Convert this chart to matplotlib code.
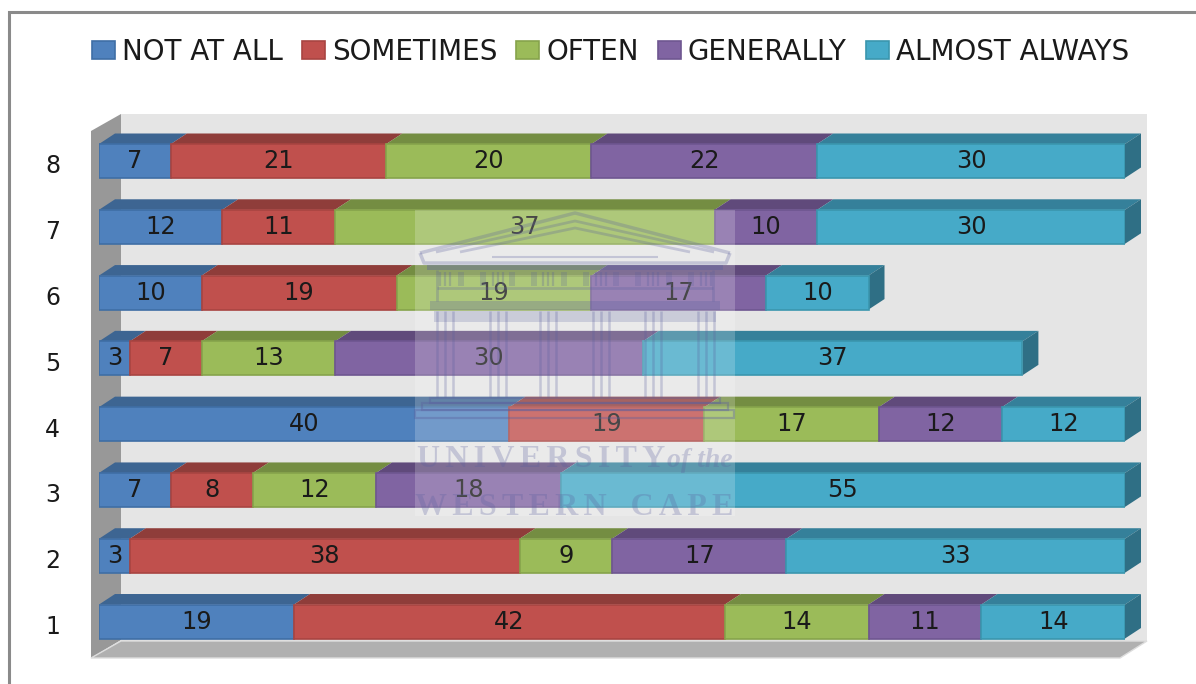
import matplotlib
matplotlib.use("Agg")
import matplotlib.pyplot as plt
from matplotlib.patches import Polygon, Rectangle
from matplotlib.transforms import ScaledTranslation
import numpy as np

categories = ["1", "2", "3", "4", "5", "6", "7", "8"]
series_names = ["NOT AT ALL", "SOMETIMES", "OFTEN", "GENERALLY", "ALMOST ALWAYS"]
not_at_all = [19, 3, 7, 40, 3, 10, 12, 7]
sometimes = [42, 38, 8, 19, 7, 19, 11, 21]
often = [14, 9, 12, 17, 13, 19, 37, 20]
generally = [11, 17, 18, 12, 30, 17, 10, 22]
almost_always = [14, 33, 55, 12, 37, 10, 30, 30]
series_values = [not_at_all, sometimes, often, generally, almost_always]

front = ["#4F81BD", "#C0504D", "#9BBB59", "#8064A2", "#46AAC8"]
top = ["#3D6592", "#8F3D3A", "#748D42", "#604A7B", "#35809A"]
side = ["#355A82", "#7F3633", "#677D3B", "#553F6E", "#2F6F85"]
edge = ["#3F6EA5", "#A84441", "#86A34B", "#6E5690", "#3A96AE"]

W, H = 1196, 684
fig = plt.figure(figsize=(W / 100, H / 100), dpi=100, facecolor="white")
plt.rcParams["font.family"] = "DejaVu Sans"


def rect_px(x0, y0, x1, y1):
    return [x0 / W, 1 - y1 / H, (x1 - x0) / W, (y1 - y0) / H]


# --- background: frame and 3-D walls, in pixel space
bg = fig.add_axes([0, 0, 1, 1], zorder=0)
bg.set_xlim(0, W)
bg.set_ylim(H, 0)
bg.axis("off")
bg.plot([8.5, 8.5, W], [H, 12, 12], color="#8A8A8A", lw=2.2, solid_joinstyle="miter")
bg.add_patch(Rectangle((121, 114), 1026, 527, fc="#E5E5E5", ec="none"))
bg.add_patch(Polygon([(91, 131), (121, 114), (121, 640), (91, 658)], fc="#989898", ec="none"))
bg.add_patch(Polygon([(91, 658), (1120, 658), (1147, 641), (121, 641)], fc="#B0B0B0", ec="#DDDDDD", lw=1))

# --- chart
row_px = 65.8
x_px = 10.26
ax = fig.add_axes(rect_px(99, 161 - row_px * 0.5, 1125, 621.5 + row_px * 0.5), zorder=1)
ax.patch.set_visible(False)
ax.set_xlim(0, 100)
ax.set_ylim(0.5, 8.5)
for s in ax.spines.values():
    s.set_visible(False)

y = np.arange(1, len(categories) + 1)
height = 34 / row_px
dx = 16 / x_px
dy = 10.5 / row_px

left = np.zeros(len(categories))
for i, vals in enumerate(series_values):
    vals = np.array(vals, dtype=float)
    for yy, l, v in zip(y, left, vals):
        t = yy + height / 2
        ax.add_patch(Polygon([(l, t), (l + v, t), (l + v + dx, t + dy), (l + dx, t + dy)],
                             fc=top[i], ec="none", clip_on=False, zorder=2))
    bars = ax.barh(y, vals, left=left, height=height, color=front[i], edgecolor=edge[i],
                   linewidth=1.2, label=series_names[i], zorder=3)
    ax.bar_label(bars, labels=[str(int(v)) for v in vals], label_type="center",
                 fontsize=17.3, color="#1A1A1A", zorder=6)
    left = left + vals
    if i == len(series_values) - 1:
        for yy, r in zip(y, left):
            t, b = yy + height / 2, yy - height / 2
            ax.add_patch(Polygon([(r, t), (r + dx, t + dy), (r + dx, b + dy), (r, b)],
                                 fc=side[i], ec="none", clip_on=False, zorder=2.5))

ax.set_yticks(y, categories)
ax.set_xticks([])
ax.tick_params(axis="y", length=0, pad=28, labelsize=17, labelcolor="#1A1A1A")
shift = ScaledTranslation(0, -0.03, fig.dpi_scale_trans)
for lab in ax.get_yticklabels():
    lab.set_transform(lab.get_transform() + shift)

fs = 20.0
fpx = fs * 100 / 72
leg = ax.legend(loc="center left", bbox_to_anchor=(92 / W, 1 - 52 / H), bbox_transform=fig.transFigure,
                ncols=5, frameon=False, fontsize=fs, handlelength=23 / fpx, handleheight=17 / fpx,
                handletextpad=7 / fpx, columnspacing=19 / fpx, borderpad=0, borderaxespad=0,
                labelcolor="#1A1A1A")

# --- watermark overlay
ov = fig.add_axes([0, 0, 1, 1], zorder=3)
ov.set_xlim(0, W)
ov.set_ylim(H, 0)
ov.axis("off")
ov.patch.set_visible(False)
ov.add_patch(Rectangle((415, 210), 320, 306, fc="white", ec="none", alpha=0.2))
ink = "#5A5F9E"
a = 0.27


def ln(xs, ys, lw=2.0):
    ov.plot(xs, ys, color=ink, alpha=a, lw=lw, solid_capstyle="butt")


# pediment
ln([420, 575, 730], [253, 213, 253], 2.5)
ln([420, 424, 726, 730], [253, 263, 263, 253], 2.5)
ln([436, 575, 714], [252, 221, 252], 2)
ln([460, 575, 690], [252, 228, 252], 2)
ln([492, 658], [257, 257], 1.5)
# entablature
ov.add_patch(Rectangle((427, 265), 296, 5, fc=ink, ec="none", alpha=a + 0.1))
ov.add_patch(Rectangle((430, 301), 290, 9, fc=ink, ec="none", alpha=a))
ln([437, 437], [270, 301], 2)
ln([713, 713], [270, 301], 2)
ln([437, 713], [288, 288], 2)
centers = [445, 498, 548, 601, 653, 706]
for c in centers:
    for off in (-5, 0, 5):
        ln([c + off, c + off], [272, 286], 1.6)
for c0, c1 in zip(centers[:-1], centers[1:]):
    m = (c0 + c1) / 2
    ov.add_patch(Rectangle((m - 14, 272), 6, 14, fc=ink, ec="none", alpha=a * 0.8))
    ov.add_patch(Rectangle((m + 8, 272), 6, 14, fc=ink, ec="none", alpha=a * 0.8))
ov.add_patch(Rectangle((434, 311), 282, 11, fc=ink, ec="none", alpha=a * 0.8))
# columns
for c in centers:
    for off in (-8, 0, 8):
        ln([c + off, c + off], [311, 397], 1.8)
# steps
for x0, x1, y0, y1 in [(430, 720, 398, 403), (422, 728, 403, 410), (415, 734, 410, 418)]:
    ov.add_patch(Rectangle((x0, y0), x1 - x0, y1 - y0, fc="none", ec=ink, lw=1.6, alpha=a + 0.1))

thin = "\u200a"
ov.text(417, 467, (thin * 2).join("UNIVERSITY"), family="Liberation Serif", weight="bold", fontsize=23,
        color=ink, alpha=a, ha="left", va="baseline")
ov.text(667, 467, "of the", family="Liberation Serif", style="italic", weight="bold", fontsize=20,
        color=ink, alpha=a, ha="left", va="baseline")
ov.text(415, 515, (thin * 2).join("WESTERN") + "   " + (thin * 2).join("CAPE"), family="Liberation Serif",
        weight="bold", fontsize=23, color=ink, alpha=a, ha="left", va="baseline")

fig.savefig("out.png", dpi=100)
